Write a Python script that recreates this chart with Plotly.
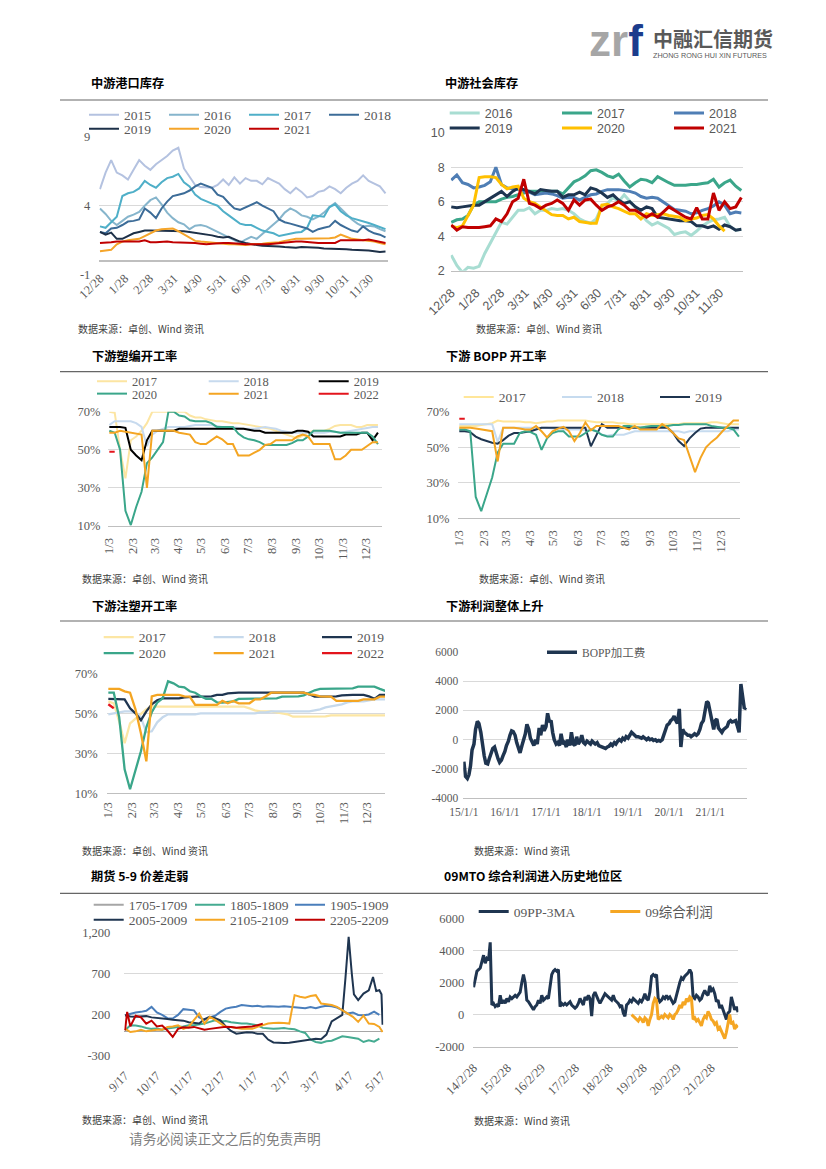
import plotly.graph_objects as go
import pandas as pd
from datetime import date

W, H = 826, 1169


def fx(p):
    return p / W


def fy(p):
    return 1 - p / H


SERIF = "Liberation Serif, Noto Sans CJK SC, serif"
SANS = "Liberation Sans, Noto Sans CJK SC, sans-serif"
CJK = "Noto Sans CJK SC, sans-serif"
TICK = "#595959"
GRID = "#D9D9D9"
AXIS = "#BFBFBF"

# ---------------- 中游港口库存 (weekly, from 12/28) ----------------
port_ticks = ["12/28", "1/28", "2/28", "3/31", "4/30", "5/31", "6/30", "7/31", "8/31", "9/30", "10/31", "11/30"]
port_yticks = [-1, 4, 9]
port_2015 = [5.2, 6.4, 7.3, 6.4, 6.2, 5.9, 6.6, 7.3, 6.9, 6.6, 7.0, 7.3, 7.6, 8.0, 8.2, 6.7, 6.1, 5.5, 5.35, 5.3,
             5.3, 5.5, 5.9, 5.5, 6.05, 5.6, 6.0, 5.8, 5.8, 5.55, 6.0, 5.8, 5.6, 5.2, 4.9, 5.3, 5.0, 4.6, 4.7, 5.0,
             5.1, 5.4, 5.2, 4.9, 5.3, 5.6, 5.8, 6.2, 5.8, 5.6, 5.4, 4.9]
port_2016 = [3.8, 3.4, 2.9, 2.6, 2.9, 3.2, 3.35, 3.55, 4.0, 4.4, 4.6, 4.1, 3.5, 3.1, 2.8, 2.65, 2.3, 2.55, 2.6, 2.5,
             2.3, 2.1, 1.9, 1.7, 1.5, 1.3, 1.55, 1.75, 1.6, 1.95, 2.3, 2.6, 3.0, 3.5, 3.8, 3.6, 3.3, 3.2, 3.0, 3.2,
             3.5, 3.9, 4.2, 3.8, 3.4, 3.0, 2.7, 2.5, 2.55, 2.5, 2.3, 2.15]
port_2017 = [2.5, 2.4, 2.8, 3.2, 4.7, 4.9, 5.0, 5.25, 5.8, 5.5, 5.3, 5.7, 6.0, 6.1, 6.3, 5.7, 5.4, 4.8, 4.5, 4.3,
             4.15, 4.0, 3.6, 3.3, 3.0, 2.7, 2.6, 2.6, 2.4, 2.2, 2.1, 2.0, 1.8, 1.9, 2.0, 2.05, 2.1, 2.4, 3.3, 3.25,
             3.2, 3.9, 4.1, 3.6, 3.3, 3.1, 3.0, 2.9, 2.75, 2.6, 2.45, 2.3]
port_2018 = [2.1, 2.0, 2.35, 2.4, 2.6, 2.85, 2.9, 3.0, 3.8, 3.5, 3.1, 3.8, 4.3, 4.7, 4.8, 4.9, 5.1, 5.4, 5.6, 5.45,
             5.3, 4.8, 4.65, 4.2, 3.8, 3.7, 3.9, 4.1, 4.25, 4.0, 3.8, 3.6, 3.0, 2.8, 2.7, 2.6, 2.5, 2.35, 2.1, 2.3,
             2.4, 2.5, 2.9, 2.6, 2.4, 2.2, 2.1, 2.5, 2.2, 2.0, 1.9, 1.7]
port_2019 = [2.1, 1.9, 2.05, 1.6, 1.6, 1.8, 2.0, 2.1, 2.2, 2.2, 2.2, 2.2, 2.2, 2.2, 2.2, 2.15, 2.1, 2.05, 2.0, 1.95,
             1.85, 1.75, 1.7, 1.75, 1.55, 1.4, 1.3, 1.2, 1.15, 1.1, 1.1, 1.05, 1.05, 1.0, 0.95, 0.95, 1.0, 1.0, 0.95,
             0.95, 0.9, 0.9, 0.9, 0.85, 0.85, 0.8, 0.8, 0.75, 0.75, 0.7, 0.65, 0.68]
port_2020 = [0.7, 0.75, 0.8, 1.2, 1.4, 1.5, 1.55, 1.6, 1.8, 2.0, 2.2, 2.3, 2.35, 2.35, 2.15, 1.9, 1.65, 1.45, 1.4, 1.35,
             1.3, 1.25, 1.2, 1.2, 1.2, 1.15, 1.15, 1.2, 1.2, 1.25, 1.3, 1.3, 1.35, 1.45, 1.55, 1.6, 1.6, 1.6, 1.6,
             1.6, 1.6, 1.65, 1.7, 1.9, 1.75, 1.6, 1.55, 1.5, 1.5, 1.4, 1.3, 1.2]
port_2021 = [1.3, 1.3, 1.35, 1.4, 1.4, 1.35, 1.35, 1.4, 1.5, 1.35, 1.35, 1.4, 1.4, 1.35, 1.35, 1.35, 1.3, 1.3, 1.25, 1.2,
             1.25, 1.3, 1.3, 1.3, 1.3, 1.25, 1.2, 1.2, 1.15, 1.15, 1.2, 1.25, 1.3, 1.35, 1.4, 1.4, 1.4, 1.35, 1.3,
             1.3, 1.3, 1.3, 1.3, 1.5, 1.5, 1.5, 1.45, 1.5, 1.55, 1.45, 1.4, 1.3]

# ---------------- 中游社会库存 (weekly, from 12/28) ----------------
soc_ticks = ["12/28", "1/28", "2/28", "3/31", "4/30", "5/31", "6/30", "7/31", "8/31", "9/30", "10/31", "11/30"]
soc_yticks = [2, 4, 6, 8, 10]
soc_2016 = [2.9, 2.3, 1.9, 2.2, 2.15, 2.25, 3.0, 3.6, 4.25, 4.8, 4.7, 5.1, 5.5, 5.5, 5.65, 5.3, 5.5, 5.5, 5.6, 5.55,
            5.6, 5.5, 5.3, 5.0, 4.85, 4.75, 5.0, 5.75, 5.9, 6.25, 6.0, 6.4, 6.05, 5.7, 5.3, 4.9, 4.65, 4.8, 4.6, 4.45,
            4.1, 4.2, 4.25, 4.05, 4.3, 4.6, 4.8, 4.95, 5.0, 5.1, 4.55, 4.35, 4.4]
soc_2017 = [4.8, 4.95, 5.0, 5.2, 5.8, 6.0, 6.0, 6.0, 6.0, 6.15, 6.25, 6.3, 6.4, 6.5, 6.6, 6.6, 6.6, 6.6, 6.6, 6.6,
            6.45, 6.8, 7.15, 7.3, 7.5, 7.8, 7.85, 7.7, 7.5, 7.4, 7.6, 7.2, 6.85, 7.1, 7.3, 7.25, 7.1, 7.45, 7.25, 7.1,
            6.95, 6.95, 6.95, 7.0, 7.0, 7.05, 7.1, 7.3, 6.85, 7.1, 7.25, 6.9, 6.65]
soc_2018 = [7.25, 7.55, 7.1, 7.0, 6.8, 6.85, 6.95, 7.15, 8.0, 7.0, 6.8, 6.75, 6.7, 6.6, 6.55, 6.4, 6.45, 6.5, 6.45, 6.35,
            6.2, 6.25, 6.25, 6.1, 6.25, 6.4, 6.45, 6.6, 6.7, 6.7, 6.7, 6.65, 6.6, 6.5, 6.3, 6.2, 6.25, 6.2, 6.0, 5.75,
            5.55, 5.5, 5.45, 5.3, 5.35, 5.5, 5.6, 5.75, 6.0, 5.8, 5.3, 5.4, 5.35]
soc_2019 = [5.7, 5.65, 5.7, 5.75, 5.8, 5.8, 6.0, 6.25, 6.45, 6.6, 6.3, 6.6, 6.8, 6.7, 6.6, 6.45, 6.7, 6.65, 6.6, 6.6,
            6.25, 6.4, 6.4, 6.55, 6.4, 6.8, 6.7, 6.5, 6.25, 6.4, 6.1, 5.9, 6.0, 5.7, 5.5, 5.7, 5.6, 5.1, 5.05, 5.0,
            4.95, 4.9, 4.9, 4.85, 4.6, 4.6, 4.5, 4.6, 4.4, 4.65, 4.55, 4.35, 4.4]
soc_2020 = [4.6, 4.5, 4.6, 5.2, 5.8, 7.4, 7.45, 7.45, 7.4, 7.0, 6.75, 6.85, 6.9, 6.2, 6.0, 5.9, 5.7, 5.5, 5.25, 5.2,
            5.2, 5.0, 5.1, 4.85, 4.8, 4.75, 4.75, 5.8, 5.85, 5.7, 5.6, 5.45, 5.3, 5.3, 5.0, 5.3, 5.2, 5.25, 5.3, 5.2,
            5.15, 5.1, 4.9, 5.0, 5.05, 5.2, 5.25, 5.0, 4.6, 4.3]
soc_2021 = [4.65, 4.35, 4.55, 4.5, 4.5, 4.5, 4.55, 4.6, 5.0, 4.85, 5.3, 6.0, 6.2, 7.3, 5.9, 5.8, 5.6, 5.8, 5.9, 6.1,
            5.9, 5.5, 6.1, 5.8, 6.1, 6.15, 5.8, 5.5, 5.7, 5.8, 6.0, 5.8, 5.5, 5.5, 5.3, 5.1, 5.3, 5.1, 5.4, 5.7,
            5.5, 5.3, 5.1, 5.0, 5.65, 5.0, 5.0, 6.5, 5.5, 6.0, 5.6, 5.7, 6.25]

# ---------------- 下游塑编开工率 (weekly, from 1/3) ----------------
month3_ticks = ["1/3", "2/3", "3/3", "4/3", "5/3", "6/3", "7/3", "8/3", "9/3", "10/3", "11/3", "12/3"]
rate_yticks = [10, 30, 50, 70]
rate_yticktext = ["10%", "30%", "50%", "70%"]
weave_2017 = [70, 69.5, 50, 35, 55, 57, 60, 64, 70, 70, 70, 70, 70, 70, 70, 68, 67, 67, 66, 65.5,
              65, 65, 64.5, 64, 64, 63.5, 63, 62.5, 62, 61.5, 61, 60, 59, 58, 57, 56, 57.5, 59, 60, 60,
              60, 61, 62.5, 63, 63, 63, 62, 62, 63, 63, 63]
weave_2018 = [63, 65, 65, 65, 65, 64, 62, 52, 58, 60, 61, 62, 62, 62, 62, 62.5, 63, 63, 63, 63,
              62.5, 62, 62, 62, 61.5, 61, 61, 61, 61.5, 62, 61.5, 61, 60, 59.5, 59, 59, 59, 59, 59, 59,
              59, 59.5, 59.5, 59, 59.5, 60, 60.5, 61, 61.5, 62, 62]
weave_2019 = [62, 62, 62, 61.5, 50, 47, 44.5, 55, 60, 60, 60, 60, 60, 61, 61, 61, 61, 61, 61, 61,
              61, 61, 61, 61, 61, 61, 60.5, 60, 60, 59, 59, 59, 59, 59, 59, 60, 60, 59.5, 57, 57,
              57, 57, 57, 57, 58, 58, 58, 59, 59, 55, 59]
weave_2020 = [60, 59, 50, 18, 10.5, 20, 28, 43, 46, 50, 54, 70, 70, 68, 67.5, 65.5, 65, 65, 65, 64,
              62, 62, 62, 62, 58.5, 56.5, 55.5, 55, 54, 52.5, 52.5, 52.5, 52.5, 52.5, 53.5, 55, 55, 57, 60, 60,
              60, 60, 59.5, 59, 59, 59, 59, 59, 59, 57, 53]
weave_2021 = [59, 59, 60, 59.5, 59, 58.5, 58, 30, 60, 60, 60, 60, 60, 59, 58.5, 58, 54, 53, 53, 55,
              57, 55.5, 53, 53, 47, 47, 47, 48.5, 50, 52.5, 53, 55, 55, 55, 55, 57, 58, 57, 53, 53,
              53, 53, 45, 45, 47, 50, 50, 50, 52, 54, 54]
weave_2022 = [49, 49]

# ---------------- 下游 BOPP 开工率 (weekly, from 1/3) ----------------
bopp_2017 = [62, 62, 62, 62, 62.5, 63, 63.5, 65, 64.5, 64.5, 64.5, 64.5, 64, 64, 63.5, 64, 64.5, 64.5, 65, 65,
             65, 65, 65, 65, 64.5, 64, 64, 64, 64, 63.5, 63.5, 63, 63, 63, 63, 63, 63, 63, 63, 63,
             63, 63.5, 63.5, 63.5, 63.5, 63.5, 64, 64, 63.5, 63, 63, 63]
bopp_2018 = [63, 63, 63, 63, 63, 63, 63, 53, 61, 61, 61, 61, 61, 61, 61, 61, 61, 60.5, 60.5, 60,
             60, 60, 60, 59.5, 60, 59, 57, 56.5, 57, 57, 57, 58, 59, 59, 59, 59, 59, 59, 59, 59,
             59, 58.2, 59, 59, 59, 59, 59, 59, 59, 59, 60, 60]
bopp_2019 = [59, 59, 58.5, 56, 54.5, 53.5, 52.5, 52, 54, 56.5, 58, 58, 58.5, 59, 60, 61, 61, 61, 61, 61,
             61, 61, 61, 61, 50.5, 57, 63, 61, 61, 61, 61, 61, 61, 61, 61, 61, 61, 61, 61, 58,
             53.5, 50.7, 55, 58, 60.5, 61, 61, 61, 61, 61, 61, 61]
bopp_2020 = [60, 60, 59, 22, 14, 24, 33, 47, 52, 52, 52, 57.8, 59, 58.5, 57, 48.5, 55, 58, 59, 59,
             56, 56, 56, 58, 60, 59, 57, 56, 56, 60, 62, 62, 61.5, 61, 61.5, 62, 62, 62, 62, 62.5,
             62.5, 63, 63, 63, 63, 63, 62, 61.5, 61, 61, 60, 56]
bopp_2021 = [61, 61, 61, 60.5, 60, 59.5, 59, 42, 61, 61, 61, 60.5, 60, 60, 62, 59, 55.5, 59, 60.5, 61.5,
             59, 53.5, 58, 64, 59.5, 62, 62, 62, 62, 62, 61, 60, 62, 60, 60, 60, 60, 63, 61, 58,
             55, 54, 45, 36, 44, 50, 53, 55.5, 59, 62, 65, 65]
bopp_2022 = [66, 66]

# ---------------- 下游注塑开工率 (weekly, from 1/3) ----------------
inj_2017 = [56, 55, 46, 35, 45, 47.5, 49.5, 52, 53.5, 53.3, 53.3, 53.3, 53.3, 53.3, 53.3, 53.3, 53.3, 53.3, 53.3, 53.3,
            53.3, 53.3, 53.3, 53.3, 53.3, 53.3, 52.5, 51.5, 51, 51, 51, 50.5, 50, 49.5, 48.3, 48.3, 48.3, 48.3, 48.3, 48.3,
            48.5, 49, 49, 49, 49, 49, 49, 49, 49, 49, 49, 49]
inj_2018 = [49.5, 50, 50.5, 51, 51, 50.5, 48, 40.5, 41, 45.5, 48, 49.5, 49.5, 49.5, 49.5, 49.5, 49.5, 50, 50, 50,
            50, 50, 50, 50, 50, 50, 50, 50, 50.5, 50.5, 51, 51, 51, 51, 51, 51, 51, 51, 51.5, 52,
            53, 53.5, 54, 54.5, 55.5, 56, 56, 56, 56.5, 57, 57, 57]
inj_2019 = [57.2, 57.2, 57.2, 57, 52.5, 50, 46.5, 51, 54.5, 56.5, 57.5, 57.5, 57.5, 57.5, 58, 58.3, 58.3, 58.3, 58.3, 58.5,
            59.2, 59.2, 60, 60.3, 60.3, 60.3, 60.3, 60.3, 60.3, 60.3, 60.3, 60.3, 60.3, 60.3, 60.3, 60.3, 60.3, 59.5, 58.3,
            58.3, 58.3, 58.3, 58.5, 59, 59.2, 59.2, 59.2, 59.2, 58.5, 57.2, 59.2, 59.2]
inj_2020 = [60.3, 60.3, 48, 22, 12, 21, 31, 43, 50.5, 55.3, 57.5, 66, 65, 63.3, 63, 61, 60.3, 58.5, 57.2, 57.2,
            55.5, 55.3, 55.5, 56, 57.2, 57.2, 57.2, 57.2, 57.2, 57.2, 57.2, 57.5, 58.3, 58.3, 58.3, 58.5, 59, 60.3, 61.5,
            62.2, 62.2, 62.2, 62.2, 62.2, 62.2, 62.5, 63.3, 63.3, 63.3, 63.3, 62.2, 61.2]
inj_2021 = [62.2, 62.2, 62.2, 61, 60.3, 52, 40, 26, 58.5, 59.2, 59.2, 59.2, 59.2, 59.2, 58.5, 58.3, 54.2, 54.2, 54.2, 54.2,
            54.2, 56.2, 55, 56.2, 55, 55, 55, 57, 57, 58.5, 60.3, 60.3, 60.3, 60.3, 60.3, 60.3, 60.3, 59.5, 59.2, 58.5,
            58.3, 58.3, 56.2, 56.2, 56.2, 56.2, 56.2, 57, 57, 57, 58.3, 58.3]
inj_2022 = [54.5, 52.5]

# ---------------- 下游利润整体上升: BOPP加工费 (semi-monthly from 2015-01-01) ----------------
profit_ticks = ["2015-01-01", "2016-01-01", "2017-01-01", "2018-01-01", "2019-01-01", "2020-01-01", "2021-01-01"]
profit_ticktext = ["15/1/1", "16/1/1", "17/1/1", "18/1/1", "19/1/1", "20/1/1", "21/1/1"]
profit_yticks = [-4000, -2000, 0, 2000, 4000, 6000]
bopp_fee = [-1500, -2500, -2650, -2400, -1800, -700, -300, 700, 1250, 1100,
            500, -500, -1100, -1600, -1650, -1300, -900, -600, -500, -900,
            -1300, -1550, -1400, -1100, -800, -400, -100, 300, 600, 550,
            300, -200, -700, -900, -400, -100, 400, 1050, 700, 100,
            -200, -400, 0, -300, 800, 300, 1000, 600, 900, 1800,
            1200, 1300, 500, 0, -300, -200, -400, 400, -300, -200,
            -500, 0, -400, 500, -300, -400, 200, -300, -100, 300,
            -200, -300, -100, -200, -300, -100, -200, -300, -200, -400,
            -450, -500, -550, -600, -500, -450, -300, -400, -200, -300,
            -100, 0, -100, 100, 0, 200, 100, 300, 500, 400,
            300, 200, 200, 150, 100, 200, 100, 0, 100, 0,
            50, -50, 0, -100, -50, -100, 0, 300, 700, 1000,
            1100, 1300, 1400, 1600, 1300, 1100, 2100, -500, 700, 500,
            400, 300, 300, 200, 300, 400, 300, 400, 700, 1100,
            1300, 2000, 2600, 2500, 1800, 1100, 700, 1300, 1400, 800,
            600, 500, 700, 800, 900, 1200, 1300, 1200, 1250, 1300,
            900, 500, 3800, 3000, 2100, 2200]

# ---------------- 期货 5-9 价差 (days from 9/17) ----------------
spread_ticks = ["9/17", "10/17", "11/17", "12/17", "1/17", "2/17", "3/17", "4/17", "5/17"]
spread_yticks = [-300, 200, 700, 1200]
spread_yticktext = ["-300", "200", "700", "1,200"]
days5 = list(range(0, 245, 5))
s1805 = [13, 74, 70, 60, 40, 30, 35, 20, 35, 40, 54, 60, 74, 74, 80, 94, 115, 135, 120, 125,
         110, 100, 94, 94, 80, 74, 42, 35, 30, 35, 40, 30, 25, 0, -20, -100, -129, -140, -120, -115,
         -90, -60, -70, -80, -90, -130, -110, -125, -90]
s1905 = [196, 216, 230, 237, 250, 298, 230, 200, 160, 155, 200, 270, 265, 255, 170, 140, 170, 190, 237, 277,
         290, 300, 320, 310, 305, 310, 300, 305, 300, 300, 305, 298, 290, 285, 280, 295, 280, 300, 310, 305,
         290, 257, 216, 230, 200, 196, 205, 240, 200]
d2005 = [0, 5, 10, 15, 20, 25, 30, 35, 40, 45, 50, 55, 60, 65, 70, 75, 80, 85, 90, 95,
         100, 105, 110, 115, 120, 125, 130, 135, 140, 145, 150, 155, 160, 165, 170, 175, 180, 185, 190, 195,
         200, 205, 208, 211, 214, 216, 220, 225, 230, 234, 237, 240, 242, 243]
s2005 = [196, 180, 176, 180, 185, 170, 165, 160, 150, 140, 135, 130, 110, 100, 95, 150, 176, 160, 135, 60,
         5, -28, -20, -10, -15, -28, -30, -100, -135, -140, -141, -138, -130, -115, -110, -100, -90, -95, -40, 120,
         160, 200, 650, 1150, 700, 450, 380, 460, 500, 660, 490, 500, 450, 80]
d2105 = days5 + [243]
s2105 = [33, -8, 0, 20, 0, 10, 20, 20, 54, 60, 74, 30, 54, 135, 216, 94, 176, 140, 100, 54,
         54, 40, 30, 30, 30, 54, 70, 94, 100, 105, 100, 94, 440, 420, 410, 430, 440, 338, 330, 320,
         298, 257, 216, 176, 115, 190, 94, 90, 54, -8]
d2205 = [0, 2, 5, 10, 15, 20, 25, 30, 35, 40, 45, 50, 55, 60, 65, 70, 75, 80, 85, 90,
         95, 100, 105, 110, 115, 120, 125, 130]
s2205 = [13, 237, 60, 190, 170, 94, 130, 60, 70, 10, -68, 30, 50, 45, 54, 40, 20, 30, 40, 54,
         55, 54, 45, 50, 55, 60, 75, 94]

# ---------------- 09MTO 综合利润 ----------------
mto_ticks = ["2014-02-28", "2015-02-28", "2016-02-29", "2017-02-28", "2018-02-28", "2019-02-28", "2020-02-29", "2021-02-28"]
mto_ticktext = ["14/2/28", "15/2/28", "16/2/29", "17/2/28", "18/2/28", "19/2/28", "20/2/29", "21/2/28"]
mto_yticks = [-2000, 0, 2000, 4000, 6000]
pp_3ma = [1700, 2300, 2700, 2800, 2900, 3300, 3700, 3200, 3500, 3400,
          4500, 600, 700, 500, 600, 500, 1200, 700, 900, 700,
          1000, 800, 1100, 1000, 1100, 1200, 1100, 1300, 1400, 2000,
          2500, 2000, 900, 800, 600, 500, 300, 500, 600, 900,
          700, 1200, 900, 1000, 1100, 1000, 1800, 2500, 2700, 2800,
          2700, 2800, 500, 700, 600, 700, 600, 700, 800, 600,
          500, 400, 500, 700, 1000, 800, 600, 1100, 900, 1200,
          1000, -100, 1200, 1400, 1100, 900, 700, 900, 1200, 1300,
          1200, 1100, 1000, 900, 1200, 900, 800, 700, 500, 600,
          100, -100, 600, 700, 900, 800, 1000, 900, 800, 700,
          900, 800, 1000, 1300, 1000, 900, 1400, 2400, 2500, 2400,
          2500, 1000, 800, 900, 1100, 1000, 1200, 1000, 1100, 900,
          700, 800, 1200, 1700, 2000, 2300, 2200, 2400, 2500, 2600,
          2800, 2600, 1100, 1000, 1200, 1100, 900, 1000, 1300, 1500,
          1300, 1200, 1800, 1500, 1600, 1300, 800, 900, 400, 600,
          300, 0, -300, 100, 200, 1100, 700, 300, 500, 150]
mto_profit = [0, -100, -200, -300, -400, -200, -300, -500, -200, -300,
              -700, -300, 0, 700, 1000, 900, -300, -200, -100, -200,
              0, -100, -200, 0, -100, -300, 0, 100, 300, 600,
              400, 800, 600, 1000, 800, 1100, 1000, -300, -200, -400,
              -300, -500, -700, -300, -100, -200, 200, 0, -300, -400,
              -600, -500, -900, -800, -1000, -1200, -1500, -1100, -500, 0,
              -600, -500, -900, -700, -800]


# ---------------- helpers ----------------
def week_positions(labels, base):
    out = []
    for lab in labels:
        m, d = (int(v) for v in lab.split("/"))
        yr = base.year if (m, d) >= (base.month, base.day) else base.year + 1
        out.append((date(yr, m, d) - base).days / 7.0)
    return out


def day_positions(labels, base):
    return [p * 7.0 for p in week_positions(labels, base)]


fig = go.Figure()
layout = {}
leg_n = [0]


def new_legend(line_start, ypx, family, size):
    leg_n[0] += 1
    lid = "legend" if leg_n[0] == 1 else "legend%d" % leg_n[0]
    layout[lid] = dict(x=fx(line_start - 8), y=fy(ypx), xanchor="left", yanchor="middle",
                       orientation="h", bgcolor="rgba(0,0,0,0)", borderwidth=0,
                       font=dict(family=family, size=size, color=TICK), itemwidth=30,
                       itemclick=False, itemdoubleclick=False)
    return lid


def add(n, x, y, name, color, width, leg=None, family=SERIF, size=13.5):
    xa = "x" if n == 1 else "x%d" % n
    ya = "y" if n == 1 else "y%d" % n
    kw = dict(showlegend=False)
    if leg is not None:
        kw = dict(showlegend=True, legend=new_legend(leg[0], leg[1], family, size))
    fig.add_trace(go.Scatter(x=x, y=y, name=name, mode="lines", xaxis=xa, yaxis=ya,
                             line=dict(color=color, width=width), hoverinfo="skip", **kw))


def axes(n, xdom, ydom, xr, yr, xtv, xtt, xangle, ytv, ytt=None, font=SERIF, xsize=12.5, ysize=12.5,
         xstand=0, ystand=0, xtype="linear", zero=None, bottom=False):
    xk = "xaxis" if n == 1 else "xaxis%d" % n
    yk = "yaxis" if n == 1 else "yaxis%d" % n
    xs = "x" if n == 1 else "x%d" % n
    ys = "y" if n == 1 else "y%d" % n
    layout[xk] = dict(domain=[fx(xdom[0]), fx(xdom[1])], anchor=ys, range=xr, type=xtype,
                      tickmode="array", tickvals=xtv, ticktext=xtt, tickangle=xangle,
                      tickfont=dict(family=font, size=xsize, color=TICK), showgrid=False,
                      zeroline=False, showline=bottom, linecolor=AXIS, linewidth=1, ticks="",
                      ticklabelstandoff=xstand, fixedrange=True, automargin=False)
    yd = dict(domain=[fy(ydom[1]), fy(ydom[0])], anchor=xs, range=yr, tickmode="array",
              tickvals=ytv, ticktext=ytt if ytt is not None else [str(v) for v in ytv],
              showgrid=True, gridcolor=GRID, gridwidth=1,
              tickfont=dict(family=font, size=ysize, color=TICK),
              ticks="", ticklabelstandoff=ystand, showline=False, fixedrange=True,
              zeroline=zero is not None, automargin=False)
    if zero is not None:
        yd["zerolinecolor"] = zero
        yd["zerolinewidth"] = 1.5
    layout[yk] = yd


# ---------- chart 1 ----------
b1 = date(2018, 12, 28)
wk = lambda v: list(range(len(v)))
for name, vals, col, lg in [
    ("2015", port_2015, "#B4C2E0", (92, 115)), ("2016", port_2016, "#86B5CC", (172, 115)),
    ("2017", port_2017, "#4FAFC8", (252, 115)), ("2018", port_2018, "#3C6C98", (332, 115)),
    ("2019", port_2019, "#1D3048", (92, 129)), ("2020", port_2020, "#F5A52A", (172, 129)),
    ("2021", port_2021, "#C00000", (252, 129))]:
    add(1, wk(vals), vals, name, col, 2, lg)
axes(1, (99.3, 388.3), (136.7, 274.7), [-0.12, 51.5], [-1, 9], week_positions(port_ticks, b1), port_ticks, -45,
     port_yticks, xstand=-7, ystand=8, zero="#BFBFBF")

# ---------- chart 2 ----------
for name, vals, col, lg in [
    ("2016", soc_2016, "#A8DDD2", (452.7, 113.3)), ("2017", soc_2017, "#3BA68A", (565, 113.3)),
    ("2018", soc_2018, "#4F7EB5", (677, 113.3)), ("2019", soc_2019, "#1E3550", (452.7, 128.3)),
    ("2020", soc_2020, "#FFC000", (565, 128.3)), ("2021", soc_2021, "#C00000", (677, 128.3))]:
    add(2, wk(vals), vals, name, col, 3, lg, family=SANS, size=12.5)
axes(2, (450.7, 743), (132.7, 270.7), [-0.1, 52.3], [2, 10], week_positions(soc_ticks, b1), soc_ticks, -45,
     soc_yticks, font=SANS, xstand=9, ystand=5, bottom=True)

# ---------- chart 3 ----------
b3 = date(2019, 1, 3)
for name, vals, col, lg in [
    ("2017", weave_2017, "#FCE5A2", (100, 381.7)), ("2018", weave_2018, "#C7DAEE", (211.7, 381.7)),
    ("2019", weave_2019, "#000000", (321.7, 381.7)), ("2020", weave_2020, "#3AA68A", (100, 394)),
    ("2021", weave_2021, "#F4A522", (211.7, 394)), ("2022", weave_2022, "#E3141C", (321.7, 394))]:
    add(3, wk(vals), vals, name, col, 2, lg, size=12.5)
axes(3, (108.3, 381.7), (411.7, 526), [-0.19, 50.7], [10, 70], week_positions(month3_ticks, b3), month3_ticks, -90,
     rate_yticks, ytt=rate_yticktext, xstand=6, ystand=7, bottom=True)

# ---------- chart 4 ----------
for name, vals, col, lg in [
    ("2017", bopp_2017, "#FFE699", (466.7, 397.3)), ("2018", bopp_2018, "#C6DBEF", (565, 397.3)),
    ("2019", bopp_2019, "#1F3550", (663, 397.3)), ("2020", bopp_2020, "#3AA68A", None),
    ("2021", bopp_2021, "#F4A522", None), ("2022", bopp_2022, "#E3141C", None)]:
    add(4, wk(vals), vals, name, col, 2, lg)
axes(4, (458.3, 740), (411.7, 518.3), [-0.18, 51.2], [10, 70], week_positions(month3_ticks, b3), month3_ticks, -90,
     rate_yticks, ytt=rate_yticktext, xstand=6, ystand=8, bottom=True)

# ---------- chart 5 ----------
for name, vals, col, lg in [
    ("2017", inj_2017, "#FCE6A4", (106.7, 637.3)), ("2018", inj_2018, "#C6D9EC", (216.7, 637.3)),
    ("2019", inj_2019, "#1F3550", (325, 637.3)), ("2020", inj_2020, "#3AA68A", (106.7, 653.3)),
    ("2021", inj_2021, "#F4A522", (216.7, 653.3)), ("2022", inj_2022, "#E3141C", (325, 653.3))]:
    add(5, wk(vals), vals, name, col, 2.3, lg)
axes(5, (106.7, 385), (673.3, 793.3), [-0.3, 50.95], [10, 70], week_positions(month3_ticks, b3), month3_ticks, -90,
     rate_yticks, ytt=rate_yticktext, xstand=3, ystand=8, bottom=True)

# ---------- chart 6 ----------
fee_dates = pd.date_range("2015-01-01", periods=len(bopp_fee), freq="SMS")
add(6, fee_dates, bopp_fee, "BOPP加工费", "#1F3550", 3.5, (550, 652.3), size=11.5)
axes(6, (463.3, 747.3), (651.7, 798.3), ["2014-12-27", "2021-11-27"], [-4000, 6000], profit_ticks, profit_ticktext, 0,
     profit_yticks, xsize=11.5, ysize=11.5, xstand=3, ystand=4, xtype="date", bottom=True)

# ---------- chart 7 ----------
b7 = date(2020, 9, 17)
add(7, [None], [None], "1705-1709", "#A6A6A6", 2, (96.7, 905))
add(7, days5, s1805, "1805-1809", "#45AB91", 2, (198, 905))
add(7, days5, s1905, "1905-1909", "#4A7EBB", 2, (298, 905))
add(7, d2005, s2005, "2005-2009", "#1F3550", 2, (96.7, 920))
add(7, d2105, s2105, "2105-2109", "#F5A623", 2, (198, 920))
add(7, d2205, s2205, "2205-2209", "#C00000", 2, (298, 920))
axes(7, (124.3, 383.3), (932.7, 1056), [-0.7, 243.7], [-300, 1200], day_positions(spread_ticks, b7), spread_ticks, -45,
     spread_yticks, ytt=spread_yticktext, xstand=9, ystand=13, zero="#A6A6A6")

# ---------- chart 8 ----------
mto_dates = pd.date_range("2014-02-28", "2021-12-14", periods=len(pp_3ma))
add(8, mto_dates, pp_3ma, "09PP-3MA", "#1F3550", 3, (481.7, 911.7))
add(8, mto_dates[len(pp_3ma) - len(mto_profit):], mto_profit, "09综合利润", "#F5A623", 3, (613.3, 911.7))
axes(8, (473.3, 738.3), (918.3, 1046.7), ["2014-02-25", "2021-12-17"], [-2000, 6000], mto_ticks, mto_ticktext, -45,
     mto_yticks, xstand=8, ystand=8, xtype="date", bottom=True)

# ---------------- page decorations ----------------
ann = []


def text(xp, yp, s, size, color, family=CJK, xanchor="left"):
    ann.append(dict(x=fx(xp), y=fy(yp), xref="paper", yref="paper", text=s, showarrow=False,
                    xanchor=xanchor, yanchor="middle", borderpad=0,
                    font=dict(family=family, size=size, color=color)))


titles = [(90, 83.3, "中游港口库存"), (444.3, 83.3, "中游社会库存"), (90.7, 356, "下游塑编开工率"),
          (445, 356, "下游 BOPP 开工率"), (90.7, 606, "下游注塑开工率"), (445, 606, "下游利润整体上升"),
          (90, 876, "期货 5-9 价差走弱"), (443.3, 876, "09MTO 综合利润进入历史地位区")]
for xp, yp, s in titles:
    text(xp, yp, "<b>%s</b>" % s, 12.2, "#000000")

src1 = "数据来源：卓创、Wind 资讯"
src2 = "数据来源：Wind 资讯"
for xp, yp, s in [(76.7, 328.3, src1), (475, 328.3, src1), (80.7, 578.3, src1), (478.3, 578.3, src1),
                  (80.7, 850, src1), (473.3, 850, src2), (80.7, 1119.3, src1), (473.3, 1120, src2)]:
    text(xp, yp, s, 10, "#404040")

text(128, 1137.7, "请务必阅读正文之后的免责声明", 13.7, "#7F7F7F")

# logo
text(588, 40, "<b><span style='color:#A6A6A6'>zr</span><span style='color:#1B3C8C'>f</span></b>", 44,
     "#A6A6A6", family="Liberation Sans")
text(652, 38, "<b>中融汇信期货</b>", 20, "#595959")
text(652, 55.5, "ZHONG RONG HUI XIN FUTURES", 7.2, "#595959", family="Liberation Sans")

shapes = []
for yp in [100, 371.7, 621, 893.3]:
    shapes.append(dict(type="line", xref="paper", yref="paper", x0=fx(60), x1=fx(768), y0=fy(yp), y1=fy(yp),
                       line=dict(color="#666666", width=1.2)))

layout.update(dict(width=W, height=H, margin=dict(l=0, r=0, t=0, b=0, pad=0, autoexpand=False),
                   paper_bgcolor="white", plot_bgcolor="white", showlegend=True, annotations=ann,
                   shapes=shapes, hovermode=False))
fig.update_layout(**layout)
fig.write_html("out.html", config={"displayModeBar": False, "staticPlot": True},
               post_script="document.body.style.margin='0px';document.body.style.padding='0px';")
